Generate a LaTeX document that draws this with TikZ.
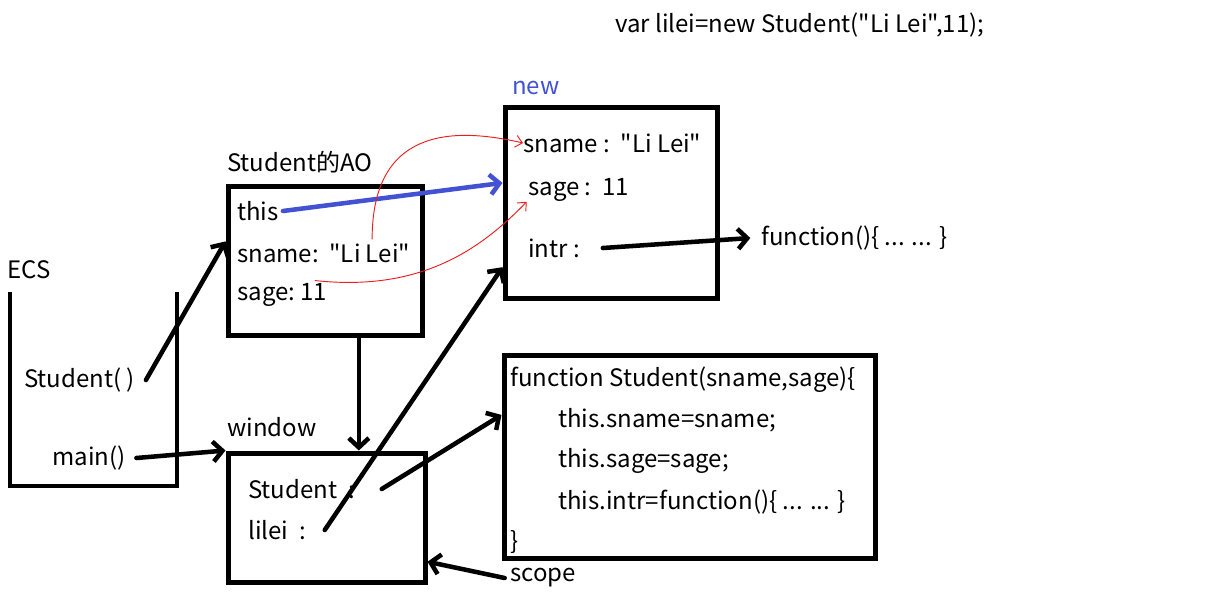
\documentclass[tikz,border=0pt]{standalone}
\usepackage{fontspec}
\setmainfont{Noto Sans CJK SC}[Ligatures=TeXOff]
\usetikzlibrary{arrows.meta,positioning,calc}
\tikzset{>={Straight Barb[length=7pt,width=15pt]}}
\definecolor{inkblue}{RGB}{66,82,210}
\definecolor{inkred}{RGB}{235,30,30}

\begin{document}
\begin{tikzpicture}[
    x=0.75pt, y=-0.75pt,
    every node/.style={font=\fontsize{18}{22}\selectfont},
    txt/.style={anchor=west, inner sep=0pt},
    box/.style n args={2}{draw, line width=3.75pt, minimum width=#1, minimum height=#2},
    wall/.style={line width=3.5pt},
    arr/.style={->, line width=3.4pt, line cap=round},
    thinarr/.style={-{Straight Barb[length=5pt,width=9pt]}, inkred, line width=0.7pt}
  ]
    \useasboundingbox (0,0) rectangle (1218,608);

    \node[txt] (title) at (615,25) {var lilei=new Student("Li Lei",11);};

    % object created by new
    \node[txt, text=inkblue] (newlbl) at (512,88) {new};
    \node[box={159pt}{143.25pt}] (newbox) at (611,202.5) {};
    \node[txt] (nsname) at (523,143) {sname :~~"Li Lei"};
    \node[txt] (nsage)  at (528,190) {sage :~~11};
    \node[txt] (nintr)  at (528,248) {intr :};
    \node[txt] (fnval)  at (761,238) {function()\{ ... ... \}};

    % activation object
    \node[txt] (aolbl) at (227,162) {Student的AO};
    \node[box={145.5pt}{111.75pt}] (aobox) at (325,260.5) {};
    \node[txt] (aothis) at (237,211) {this};
    \node[txt] (aoname) at (237,253) {sname:~~"Li Lei"};
    \node[txt] (aosage) at (237,295) {sage:~11};

    % stack
    \node[txt] (ecslbl) at (7,270) {ECS};
    \draw[wall] (10,292) -- (10,486) -- (177,486) -- (177,292);
    \node[txt] (ecsstu)  at (24,380) {Student(~)};
    \node[txt] (ecsmain) at (52,458) {main()};

    % global
    \node[txt] (winlbl) at (227,427) {window};
    \node[box={147.75pt}{96.75pt}] (winbox) at (326.5,517.5) {};
    \node[txt] (winstu)   at (248,489) {Student~~:};
    \node[txt] (winlilei) at (248,530) {lilei~~:};

    % constructor
    \node[box={278.25pt}{152.25pt}] (fnbox) at (689.5,456.5) {};
    \node[txt] (fn1) at (510,380) {function Student(sname,sage)\{};
    \node[txt] (fn2) at (558,420) {this.sname=sname;};
    \node[txt] (fn3) at (558,461) {this.sage=sage;};
    \node[txt] (fn4) at (558,502) {this.intr=function()\{ ... ... \}};
    \node[txt] (fn5) at (510,542) {\}};
    \node[txt] (scopelbl) at (510,578) {scope};

    \coordinate (aodrop) at ($(aobox.south west)!0.67!(aobox.south east)$);

    \draw[arr, inkblue] ([xshift=3pt]aothis.east) -- ($(newbox.north west)!0.4!(newbox.south west)$);
    \draw[thinarr] ([yshift=3pt]$(aoname.north west)!0.78!(aoname.north east)$) .. controls (372,130) and (450,126) .. (nsname.west);
    \draw[thinarr] ([yshift=2pt]$(aosage.north west)!0.86!(aosage.north east)$) .. controls (420,292) and (480,250) .. ([xshift=-1pt]nsage.south west);
    \draw[arr] ([xshift=17pt]nintr.east) -- ([xshift=-8pt]fnval.west);
    \draw[arr] ([xshift=8pt]ecsstu.east) -- ($(aobox.north west)!0.376!(aobox.south west)$);
    \draw[arr] ([xshift=8pt]ecsmain.east) -- (winbox.north west);
    \draw[arr] (aodrop) -- (aodrop |- winbox.north);
    \draw[arr] ([xshift=14pt]winlilei.east) -- ($(newbox.north west)!0.83!(newbox.south west)$);
    \draw[arr] ([xshift=20pt]winstu.east) -- ($(fnbox.north west)!0.3!(fnbox.south west)$);
    \draw[arr] ([xshift=-4pt]scopelbl.west) -- ($(winbox.north east)!0.83!(winbox.south east)$);
  \end{tikzpicture}
\end{document}
